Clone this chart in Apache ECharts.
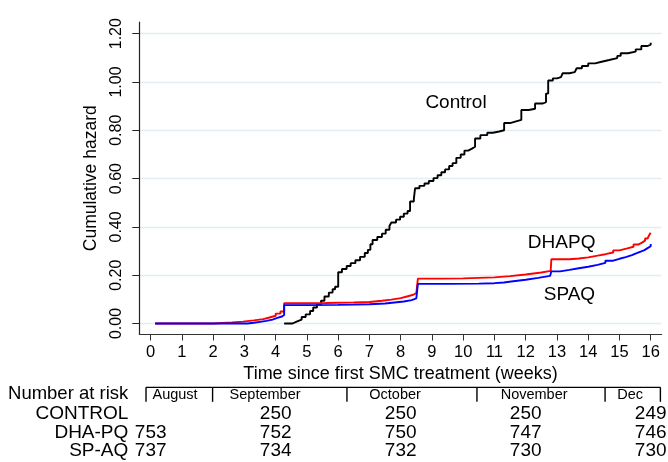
<!DOCTYPE html>
<html><head><meta charset="utf-8">
<script src="https://cdn.jsdelivr.net/npm/echarts@6/dist/echarts.min.js"></script>
<style>html,body{margin:0;padding:0;background:#fff}#c{width:668px;height:462px}</style>
</head><body><div id="c"></div>
<script>
// ---- data ----
const xTicks = [0,1,2,3,4,5,6,7,8,9,10,11,12,13,14,15,16];
const yTicks = [0,0.2,0.4,0.6,0.8,1.0,1.2];

const controlHazard = [
 [4.27,0],[4.54,0.008],[4.67,0.016],[4.83,0.027],[4.96,0.038],[5.1,0.052],[5.2,0.066],[5.32,0.080],
 [5.45,0.094],[5.56,0.112],[5.7,0.128],[5.82,0.142],[5.9,0.152],[6.0,0.212],[6.12,0.226],[6.27,0.238],
 [6.4,0.250],[6.55,0.262],[6.7,0.276],[6.85,0.292],[6.95,0.305],[7.03,0.328],[7.1,0.346],[7.25,0.358],
 [7.4,0.372],[7.52,0.388],[7.64,0.404],[7.7,0.418],[7.85,0.430],[7.98,0.442],[8.1,0.455],[8.22,0.466],
 [8.3,0.505],[8.42,0.515],[8.46,0.560],[8.6,0.570],[8.76,0.580],[8.9,0.590],[9.05,0.602],[9.18,0.614],
 [9.3,0.626],[9.42,0.638],[9.55,0.652],[9.66,0.664],[9.78,0.686],[9.92,0.700],[10.04,0.716],[10.16,0.724],
 [10.28,0.732],[10.38,0.766],[10.55,0.780],[10.77,0.790],[10.95,0.795],[11.15,0.800],[11.31,0.830],[11.5,0.837],
 [11.69,0.843],[11.86,0.884],[12.1,0.889],[12.3,0.911],[12.55,0.917],[12.65,0.952],[12.72,1.006],
 [12.87,1.015],[13.0,1.020],[13.13,1.025],[13.18,1.036],[13.4,1.041],[13.57,1.047],[13.63,1.057],[13.8,1.066],
 [14.0,1.077],[14.22,1.084],[14.43,1.091],[14.67,1.099],[14.93,1.108],[15.04,1.119],[15.27,1.126],
 [15.52,1.135],[15.7,1.149],[15.9,1.155],[16.0,1.162]
];
const dhapqHazard = [
 [0.14,0],[1.84,0],[2.0,0.002],[2.3,0.004],[2.6,0.008],[2.95,0.013],[3.3,0.018],[3.6,0.025],[3.8,0.032],
 [4.0,0.041],[4.15,0.050],[4.27,0.084],[5.0,0.085],[5.6,0.086],[6.0,0.087],[6.5,0.089],[7.0,0.094],
 [7.4,0.099],[7.7,0.105],[8.0,0.112],[8.2,0.119],[8.4,0.126],[8.5,0.134],[8.55,0.186],[9.3,0.187],
 [10.0,0.189],[10.5,0.191],[11.0,0.196],[11.5,0.203],[12.0,0.211],[12.5,0.218],[12.8,0.222],[12.82,0.266],
 [13.4,0.269],[13.7,0.274],[14.0,0.281],[14.3,0.287],[14.55,0.294],[14.8,0.303],[15.0,0.311],[15.25,0.318],
 [15.45,0.327],[15.6,0.335],[15.72,0.343],[15.82,0.352],[15.9,0.360],[15.96,0.368],[16.0,0.376]
];
const spaqHazard = [
 [0.14,0],[2.9,0],[3.1,0.003],[3.3,0.007],[3.5,0.011],[3.7,0.016],[3.9,0.023],[4.05,0.029],[4.2,0.035],
 [4.27,0.076],[5.0,0.077],[6.0,0.078],[6.5,0.080],[7.0,0.083],[7.5,0.087],[7.8,0.091],[8.1,0.097],
 [8.35,0.104],[8.5,0.111],[8.55,0.164],[9.5,0.165],[10.5,0.167],[11.0,0.170],[11.3,0.175],[11.6,0.181],
 [12.0,0.189],[12.4,0.197],[12.78,0.203],[12.82,0.216],[13.1,0.222],[13.4,0.229],[13.7,0.235],[14.0,0.243],
 [14.3,0.251],[14.55,0.260],[14.8,0.268],[15.0,0.275],[15.2,0.283],[15.4,0.291],[15.55,0.298],[15.68,0.304],
 [15.8,0.312],[15.9,0.320],[16.0,0.329]
];
const curveLabels = [['Control',9.77,0.913],['DHAPQ',13.15,0.333],['SPAQ',13.4,0.118]];

const riskRows = ['CONTROL','DHA-PQ','SP-AQ'];
const riskTimes = [0,4,8,12,16];
const riskControl = [null,250,250,250,249];
const riskDhapq = [753,752,750,747,746];
const riskSpaq = [737,734,732,730,730];
const months = ['August','September','October','November','Dec'];
const monthBounds = [-0.15,1.98,6.28,10.44,14.54,16.31];
const monthLabelAt = [0.78,3.66,7.82,12.27,15.34];

// ---- chart ----
const FONT = '"Liberation Sans", Arial, sans-serif';
const X_MIN = -0.365, X_MAX = 16.352;
const chart = echarts.init(document.getElementById('c'));

const riskData = [];
[riskControl, riskDhapq, riskSpaq].forEach((vals, r) => {
  vals.forEach((v, j) => { if (v !== null) riskData.push([riskTimes[j], riskRows[r], v]); });
});

function textEl(x, y, text, size, align) {
  return {type:'text', x:x, y:y, style:{text:text, fill:'#000', fontSize:size, fontFamily:FONT,
          align:align || 'center', verticalAlign:'middle'}};
}

chart.setOption({
  backgroundColor:'#fff',
  animation:false,
  grid:[
    {left:139.3, right:6.3, top:22, bottom:127.5},
    {left:139.3, right:6.3, top:404.5, height:56}
  ],
  xAxis:[
    {gridIndex:0, type:'value', min:X_MIN, max:X_MAX,
     axisLine:{show:true, onZero:false, lineStyle:{color:'#333', width:1}},
     axisTick:{show:true, length:6, customValues:xTicks, lineStyle:{color:'#333', width:1}},
     axisLabel:{customValues:xTicks, fontSize:16.5, color:'#000', margin:9, fontFamily:FONT},
     splitLine:{show:false},
     name:'Time since first SMC treatment (weeks)', nameLocation:'middle', nameGap:29,
     nameTextStyle:{fontSize:18, color:'#000', fontFamily:FONT}},
    {gridIndex:1, type:'value', min:X_MIN, max:X_MAX, show:false}
  ],
  yAxis:[
    {gridIndex:0, type:'value', min:-0.0455, max:1.2484,
     axisLine:{show:true, onZero:false, lineStyle:{color:'#222', width:1.2}},
     axisTick:{show:true, length:7, customValues:yTicks, lineStyle:{color:'#222', width:1}},
     axisLabel:{customValues:yTicks, rotate:90, fontSize:16, color:'#000', margin:15, fontFamily:FONT,
                formatter:v => v.toFixed(2)},
     splitLine:{show:true, lineStyle:{color:'#e4eef2', width:1.3}},
     name:'Cumulative hazard', nameLocation:'middle', nameGap:33,
     nameTextStyle:{fontSize:17.5, color:'#000', fontFamily:FONT}},
    {gridIndex:1, type:'category', data:riskRows, inverse:true,
     axisLine:{show:false}, axisTick:{show:false}, splitLine:{show:false},
     axisLabel:{interval:0, fontSize:19, color:'#000', margin:11, fontFamily:FONT}}
  ],
  series:[
    {type:'line', name:'Control', data:controlHazard, step:'end', showSymbol:false, symbol:'none',
     lineStyle:{color:'#000', width:1.9}, xAxisIndex:0, yAxisIndex:0},
    {type:'line', name:'DHAPQ', data:dhapqHazard, step:'end', showSymbol:false, symbol:'none',
     lineStyle:{color:'#ff0000', width:1.9}, xAxisIndex:0, yAxisIndex:0},
    {type:'line', name:'SPAQ', data:spaqHazard, step:'end', showSymbol:false, symbol:'none',
     lineStyle:{color:'#0000ff', width:1.9}, xAxisIndex:0, yAxisIndex:0},
    {type:'custom', xAxisIndex:0, yAxisIndex:0, clip:false,
     data:curveLabels.map(d => [d[1], d[2], d[0]]),
     renderItem:(params, api) => {
       const p = api.coord([api.value(0), api.value(1)]);
       return textEl(p[0], p[1], curveLabels[params.dataIndex][0], 19);
     }},
    {type:'custom', xAxisIndex:1, yAxisIndex:1, clip:false,
     data:riskData,
     renderItem:(params, api) => {
       const d = riskData[params.dataIndex];
       const p = api.coord([d[0], d[1]]);
       return textEl(p[0], p[1], String(d[2]), 19);
     }},
    {type:'custom', xAxisIndex:1, yAxisIndex:1, clip:false,
     data:months.map((m, i) => [monthLabelAt[i], riskRows[0]]),
     renderItem:(params, api) => {
       const i = params.dataIndex;
       const rowY = api.coord([0, riskRows[0]])[1] - 20;
       const xa = api.coord([monthBounds[i], riskRows[0]])[0];
       const xb = api.coord([monthBounds[i + 1], riskRows[0]])[0];
       const xt = api.coord([monthLabelAt[i], riskRows[0]])[0];
       const top = rowY - 6.5, bot = rowY + 8;
       const ls = {stroke:'#000', lineWidth:1.4};
       const children = [
         {type:'line', shape:{x1:xa, y1:top, x2:xb, y2:top}, style:ls},
         {type:'line', shape:{x1:xa, y1:top, x2:xa, y2:bot}, style:ls},
         textEl(xt, rowY + 1.5, months[i], 14.5)
       ];
       if (i === months.length - 1) children.push({type:'line', shape:{x1:xb, y1:top, x2:xb, y2:bot}, style:ls});
       if (i === 0) {
         const gx = api.coord([X_MIN, riskRows[0]])[0];
         children.push(textEl(gx - 11, rowY, 'Number at risk', 18.5, 'right'));
       }
       return {type:'group', children:children};
     }}
  ]
});
</script>
</body></html>
